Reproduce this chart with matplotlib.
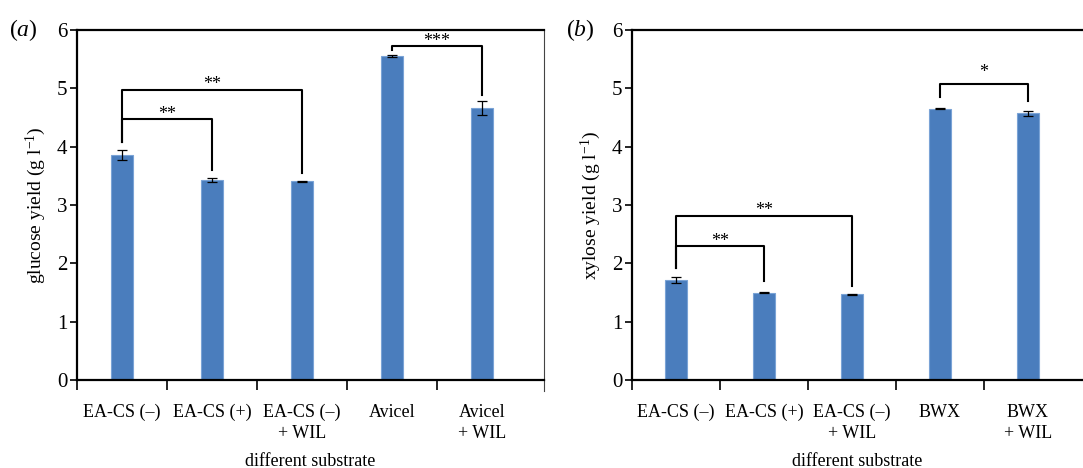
import numpy as np
from matplotlib import pyplot as plt

labels_a = ['EA-CS (–)', 'EA-CS (+)', 'EA-CS (–)\n+ WIL', 'Avicel', 'Avicel\n+ WIL']
glucose = [3.85, 3.43, 3.41, 5.55, 4.66]
glucose_err = [0.085, 0.04, 0.01, 0.02, 0.12]

labels_b = ['EA-CS (–)', 'EA-CS (+)', 'EA-CS (–)\n+ WIL', 'BWX', 'BWX\n+ WIL']
xylose = [1.71, 1.50, 1.47, 4.65, 4.57]
xylose_err = [0.05, 0.01, 0.01, 0.01, 0.05]

# brackets: (i, j, top, left-leg end, right-leg end, stars, text y)
brackets_a = [(0, 1, 4.47, 4.08, 3.60, '**', 4.55),
              (0, 2, 4.98, 4.08, 3.55, '**', 5.06),
              (3, 4, 5.73, 5.66, 4.89, '***', 5.80)]
brackets_b = [(0, 1, 2.30, 1.92, 1.69, '**', 2.38),
              (0, 2, 2.82, 1.92, 1.61, '**', 2.90),
              (3, 4, 5.07, 4.86, 4.79, '*', 5.27)]

plt.rcParams['font.family'] = 'Liberation Serif'
plt.rcParams['mathtext.fontset'] = 'custom'
plt.rcParams['mathtext.rm'] = 'Liberation Serif'
plt.rcParams['mathtext.it'] = 'Liberation Serif:italic'

blue = '#4a7dbd'

fig = plt.figure(figsize=(10.83, 4.68), dpi=100)
ax1 = fig.add_axes([77/1083, 88/468, 467/1083, 350/468])
ax2 = fig.add_axes([632/1083, 88/468, 451/1083, 350/468])


def panel(ax, labels, vals, errs, brackets, ylabel, xmax, tag):
    x = np.arange(len(vals))
    ax.bar(x, vals, width=0.245, color=blue, edgecolor='#7aa3d6', linewidth=0.8, zorder=2)
    ax.errorbar(x, vals, yerr=errs, fmt='none', ecolor='black', elinewidth=0.9,
                capsize=3.5, capthick=0.9, zorder=3)
    for i, j, top, yl, yr, s, ty in brackets:
        ax.plot([i, i, j, j], [yl, top, top, yr], color='black', lw=1.5, zorder=4)
        ax.text((i + j) / 2, ty, s, ha='center', va='center', fontsize=13)
    ax.set_xlim(-0.5, xmax)
    ax.set_ylim(0, 6)
    ax.set_yticks(range(7))
    ax.set_yticklabels([str(v) for v in range(7)], fontsize=15)
    ax.set_xticks(np.arange(len(vals)) - 0.5)
    ax.set_xticklabels([])
    ax.set_xticks(x, minor=True)
    ax.set_xticklabels(labels, minor=True, fontsize=13, linespacing=1.3)
    ax.tick_params(axis='x', which='major', length=7, width=1.2, direction='out')
    ax.tick_params(axis='x', which='minor', length=0, pad=17)
    ax.tick_params(axis='y', length=5, width=1.2, pad=2)
    for sp in ['left', 'bottom', 'top']:
        ax.spines[sp].set_linewidth(1.6)
    ax.spines['right'].set_linewidth(0.8)
    ax.spines['right'].set_color('#444444')
    ax.set_ylabel(ylabel, fontsize=14, labelpad=6)
    ax.set_xlabel('different substrate', fontsize=13, labelpad=8)
    ax.text(-0.115, 1.0, tag, transform=ax.transAxes, fontsize=17, ha='center', va='center')


panel(ax1, labels_a, glucose, glucose_err, brackets_a,
      r'glucose yield (g l$^{-1}$)', -0.5 + 467/90, '($a$)')
panel(ax2, labels_b, xylose, xylose_err, brackets_b,
      r'xylose yield (g l$^{-1}$)', -0.5 + 451/88, '($b$)')
ax2.spines['right'].set_visible(False)
# right spine of panel a runs a little below the axis like a tick
ax1.plot([1, 1], [0, -0.03], transform=ax1.transAxes, color='#444444', lw=0.8, clip_on=False)

fig.savefig('out.png', dpi=100)
